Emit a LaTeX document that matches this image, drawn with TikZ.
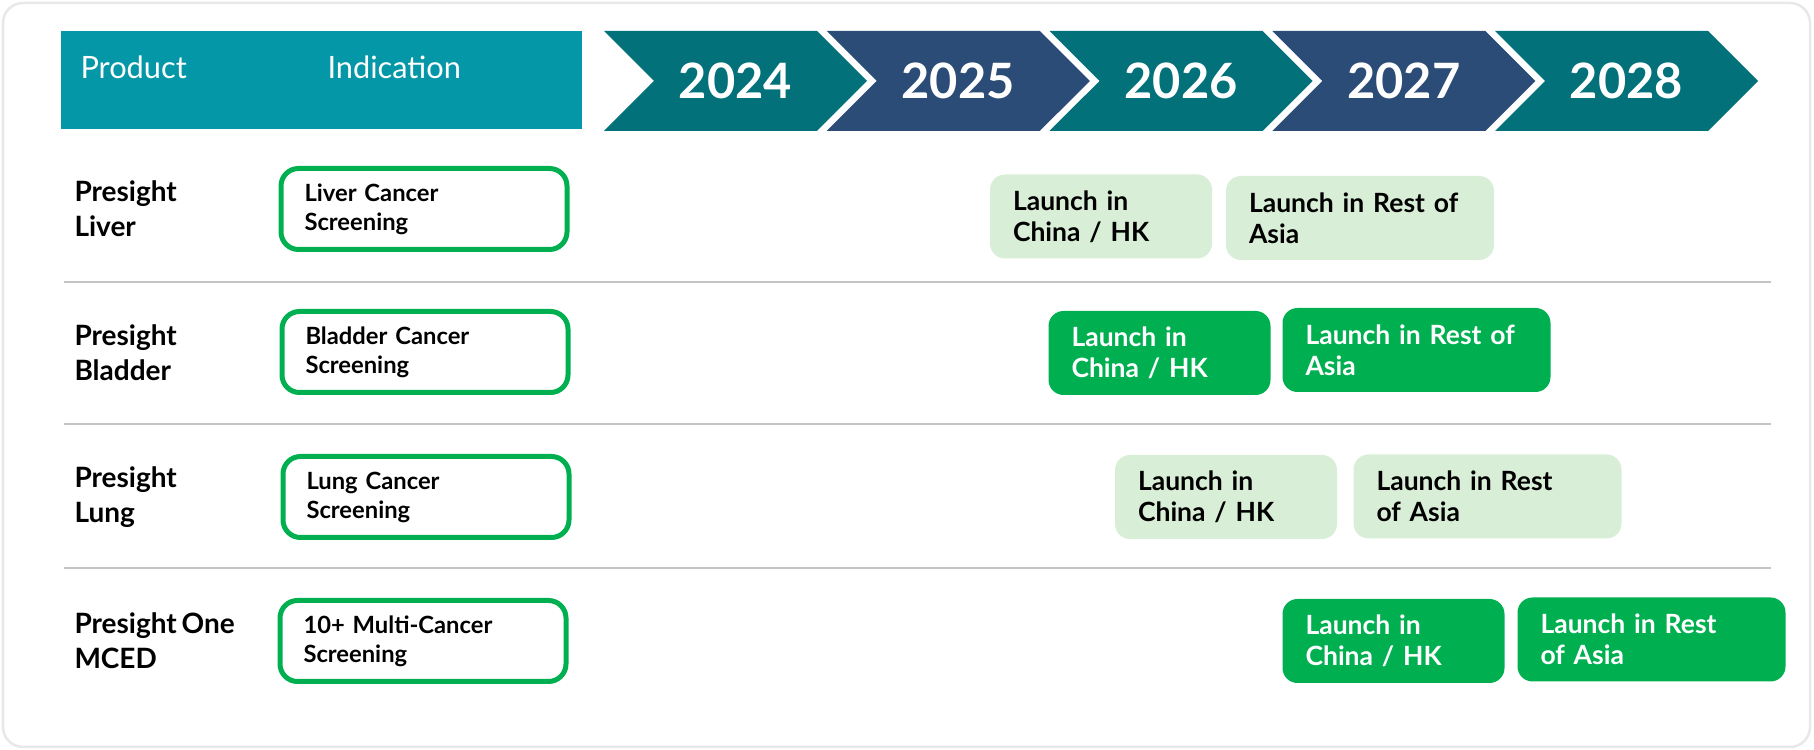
\documentclass[tikz,border=0pt]{standalone}
\usepackage{fontspec}
\setmainfont[WordSpace=0.7]{Lato}
\usetikzlibrary{shapes}
\definecolor{hdteal}{HTML}{0497A7}
\definecolor{yrteal}{HTML}{02717A}
\definecolor{yrnavy}{HTML}{2B4C76}
\definecolor{grn}{HTML}{00B050}
\definecolor{palegrn}{HTML}{D9EED6}
\definecolor{rulegray}{HTML}{C4C4C4}
\definecolor{cardgray}{HTML}{E8E8E8}
\tikzstyle{yr}=[signal, signal from=west, signal to=east, signal pointer angle=90, minimum width=105.2pt, minimum height=40pt, inner sep=0pt, text=white, font=\bfseries\fontsize{19.5}{22}\selectfont]
\tikzstyle{hd}=[anchor=base west, inner sep=0pt, text=white, font=\fontsize{12.3}{14}\selectfont]
\tikzstyle{prod}=[anchor=west, align=left, inner sep=0pt, font=\bfseries\fontsize{11.2}{14}\selectfont]
\tikzstyle{ind}=[rectangle, draw=grn, line width=2pt, rounded corners=7pt, text width=95.6pt, inner xsep=9.4pt, inner ysep=0pt, minimum height=32.4pt, align=left, font=\bfseries\fontsize{9.5}{11.6}\selectfont]
\tikzstyle{launch}=[rectangle, rounded corners=6pt, inner xsep=9.2pt, inner ysep=0pt, minimum height=33.6pt, align=left, font=\bfseries\fontsize{10.6}{12.4}\selectfont]
\tikzstyle{cn}=[launch, text width=70.4pt]
\tikzstyle{roa}=[launch, text width=88.8pt]
\tikzstyle{gpale}=[fill=palegrn, text=black]
\tikzstyle{gfull}=[fill=grn, text=white]
\tikzstyle{rule}=[rulegray, line width=0.8pt]

\begin{document}
\begin{tikzpicture}[x=0.4pt, y=-0.4pt]
\useasboundingbox (0,0) rectangle (1814,750);
\draw[cardgray, line width=1pt, rounded corners=8pt] (3,3) rectangle (1810,747);

\draw (321.5,80) node [fill=hdteal, minimum width=208.4pt, minimum height=39.2pt, inner sep=0pt] (head) {};
\draw (80,79) node [hd] (hprod) {Product};
\draw (327,79) node [hd] (hind) {Indication};

\draw (735.5,81) node [yr, fill=yrteal] (y2024) {2024};
\draw (958.25,81) node [yr, fill=yrnavy] (y2025) {2025};
\draw (1181,81) node [yr, fill=yrteal] (y2026) {2026};
\draw (1403.75,81) node [yr, fill=yrnavy] (y2027) {2027};
\draw (1626.5,81) node [yr, fill=yrteal] (y2028) {2028};

\draw (64,282)--(1771,282) [rule];
\draw (64,424)--(1771,424) [rule];
\draw (64,568)--(1771,568) [rule];

\draw (74,209) node [prod] (pliver) {Presight\\Liver};
\draw (424,209) node [ind] (iliver) {Liver Cancer\\Screening};
\draw (1101,216.5) node [cn, gpale] (cliver) {Launch in\\China / HK};
\draw (1360,218) node [roa, gpale] (rliver) {Launch in Rest of\\Asia};

\draw (74,353) node [prod] (pbladder) {Presight\\Bladder};
\draw (425,352) node [ind] (ibladder) {Bladder Cancer\\Screening};
\draw (1159.5,353) node [cn, gfull] (cbladder) {Launch in\\China / HK};
\draw (1416.5,350) node [roa, gfull] (rbladder) {Launch in Rest of\\Asia};

\draw (74,497) node [prod] (plung) {Presight\\Lung};
\draw (426,497) node [ind] (ilung) {Lung Cancer\\Screening};
\draw (1226,497) node [cn, gpale] (clung) {Launch in\\China / HK};
\draw (1487.5,496.5) node [roa, gpale] (rlung) {Launch in Rest\\of Asia};

\draw (74,641) node [prod] (pmced) {Presight One\\MCED};
\draw (423,641) node [ind] (imced) {10+ Multi-Cancer\\Screening};
\draw (1393.5,641) node [cn, gfull] (cmced) {Launch in\\China / HK};
\draw (1651.5,639.5) node [roa, gfull] (rmced) {Launch in Rest\\of Asia};

\end{tikzpicture}
\end{document}
